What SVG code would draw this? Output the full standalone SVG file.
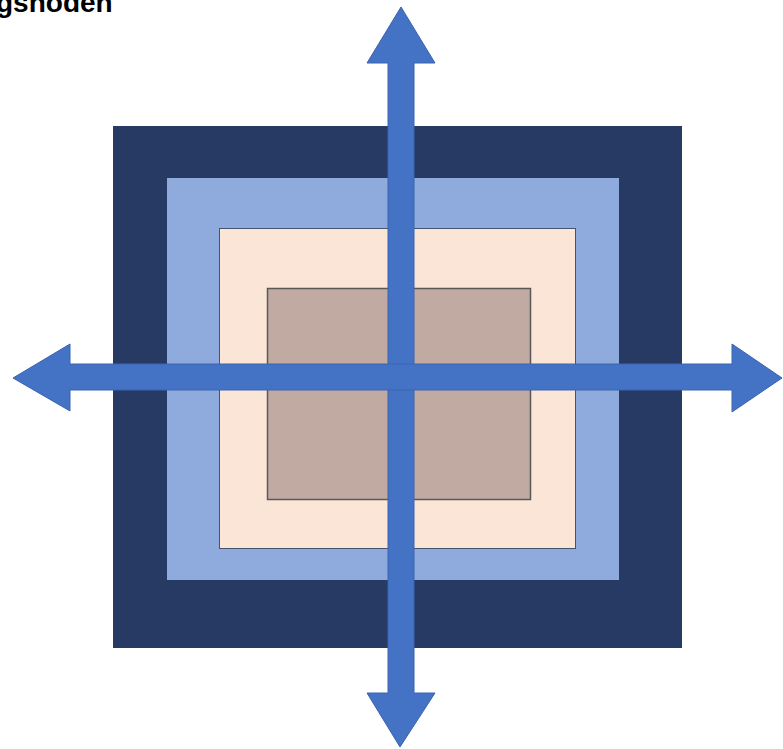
<svg xmlns="http://www.w3.org/2000/svg" width="783" height="749" viewBox="0 0 783 749">
<style>
.arrow{fill:#4472c4;stroke:#3a64b0;stroke-width:1}
.lbl{font-family:"Liberation Sans",Arial,sans-serif;font-weight:bold;font-size:28px;fill:#000}
</style>
<rect width="783" height="749" fill="#fff"/>
<text class="lbl" x="-4" y="12">gsnoden</text>
<g id="outer"><rect x="113" y="126" width="569" height="522" fill="#263a63"/></g>
<g id="ring2"><rect x="167" y="178" width="452" height="402" fill="#8faadc"/></g>
<g id="ring3"><rect x="219.5" y="228.5" width="356" height="320" fill="#fbe5d6" stroke="#44546a" stroke-width="1"/></g>
<g id="core"><rect x="267.5" y="288.5" width="263" height="211" fill="#c0aaa2" stroke="#595959" stroke-width="1.5"/></g>
<g id="connectors">
<polygon class="arrow" points="401,7 435,63 414,63 414,693 435,693 400,747 367,693 388,693 388,63 367,63"/>
<polygon class="arrow" points="13,378 70,344 70,364 732,364 732,344 782,378 732,412 732,390 70,390 70,411"/>
</g>
</svg>
